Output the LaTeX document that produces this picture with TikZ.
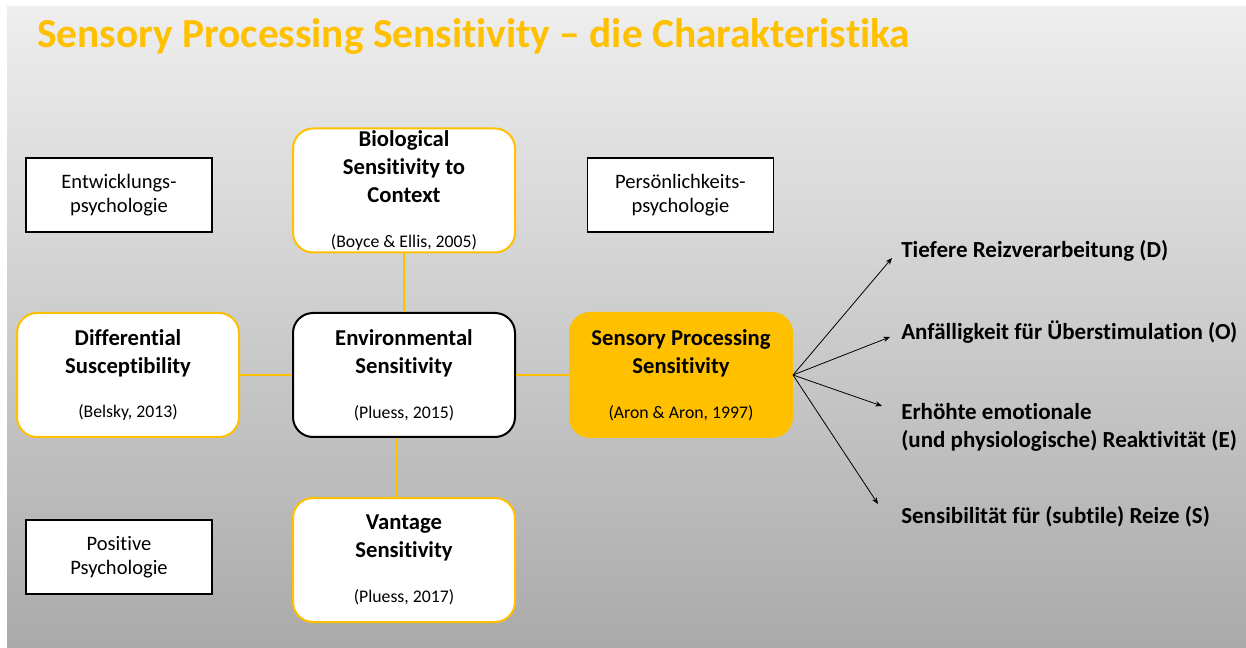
\documentclass[tikz,border=0pt]{standalone}
\usepackage{fontspec}
\setmainfont{Carlito}[Ligatures=NoCommon]
\usetikzlibrary{arrows.meta}
\definecolor{spsorange}{HTML}{FFC000}
\definecolor{bgtop}{HTML}{EEEEEE}
\definecolor{bgbottom}{HTML}{AAAAAA}
\newcommand{\quelle}[1]{{\fontsize{13.3}{16}\mdseries\selectfont #1}}

\begin{document}
\begin{tikzpicture}[x=0.75pt,y=-0.75pt]
  \tikzstyle{every node}=[inner sep=0pt]
  \tikzstyle{field}=[draw=black,line width=1.2pt,fill=white,minimum width=139.5pt,minimum height=55.5pt,align=center,font=\fontsize{15.4}{18}\selectfont]
  \tikzstyle{concept}=[draw=spsorange,line width=1.5pt,fill=white,rounded corners=15pt,minimum width=166.5pt,minimum height=93pt,align=center,font=\fontsize{17}{21}\selectfont\bfseries,execute at begin node=\rule{0pt}{17pt}]
  \tikzstyle{link}=[draw=spsorange,line width=1.5pt]
  \tikzstyle{effect}=[-{Stealth[length=5pt,width=4pt]},line width=0.6pt]
  \tikzstyle{trait}=[anchor=base west,align=left,font=\fontsize{17.25}{21.5}\selectfont\bfseries]

  \useasboundingbox (0,0) rectangle (1246,648);
  \shade[top color=bgtop,bottom color=bgbottom] (7,7) rectangle (1246,648);

  \node[anchor=base west,text=spsorange,font=\fontsize{31}{36}\selectfont\bfseries] (titel) at (37,48)
    {Sensory Processing Sensitivity -- die Charakteristika};

  % Fachrichtungen
  \node[field] (entw) at (119,195) {Entwicklungs-\\psychologie};
  \node[field] (pers) at (680.5,195) {Persönlichkeits-\\psychologie};
  \node[field] (posi) at (119,557) {Positive\\Psychologie};

  % Konzepte
  \node[concept] (bio) at (404,190.5) {Biological\\Sensitivity to\\Context\\[12.5pt]\quelle{(Boyce \& Ellis, 2005)}};
  \node[concept] (diff) at (128,375) {Differential\\Susceptibility\\[12.5pt]\quelle{(Belsky, 2013)}};
  \node[concept,draw=black] (env) at (404,375) {Environmental\\Sensitivity\\[12.5pt]\quelle{(Pluess, 2015)}};
  \node[concept] (vant) at (404,560) {Vantage\\Sensitivity\\[12.5pt]\quelle{(Pluess, 2017)}};
  \node[concept,fill=spsorange] (sps) at (681,375) {Sensory Processing\\Sensitivity\\[12.5pt]\quelle{(Aron \& Aron, 1997)}};

  \draw[link] (bio) -- (env);
  \draw[link] (diff) -- (env);
  \draw[link] (env) -- (sps);
  \draw[link] ([xshift=-5.25pt]env.south) -- ([xshift=-5.25pt]vant.north);

  % Merkmale (DOES)
  \node[trait] (tief) at (901,258) {Tiefere Reizverarbeitung (D)};
  \node[trait] (anf) at (901,340) {Anfälligkeit für Überstimulation (O)};
  \node[trait] (erh) at (901,448) {Erhöhte emotionale\\(und physiologische) Reaktivität (E)};
  \node[trait] (sens) at (901,523) {Sensibilität für (subtile) Reize (S)};

  \coordinate (zD) at (892,258);
  \coordinate (zO) at (890,337);
  \coordinate (zE) at (882,406);
  \coordinate (zS) at (878,504);
  \foreach \z in {zD,zO,zE,zS}
    \draw[effect] (sps.east) -- (\z);
\end{tikzpicture}
\end{document}
